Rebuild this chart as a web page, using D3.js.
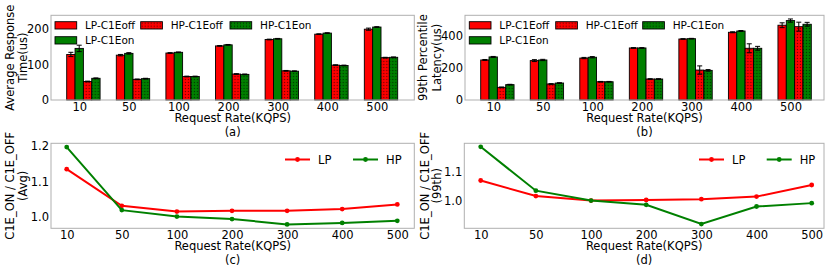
<!DOCTYPE html>
<html>
<head>
<meta charset="utf-8">
<script src="https://cdn.jsdelivr.net/npm/d3@7"></script>
<style>
  body { margin: 0; background: #fff; }
  svg { display: block; font-family: "DejaVu Sans", sans-serif; }
</style>
</head>
<body>
<svg id="chart" width="830" height="277"></svg>
<script>
// categories
const rates = ['10', '50', '100', '200', '300', '400', '500'];
const barSeries = ['LP-C1Eoff', 'LP-C1Eon', 'HP-C1Eoff', 'HP-C1Eon'];
const lineSeries = ['LP', 'HP'];

// (a) average response time (us)
const avgLpOff = [128, 126, 132, 152, 170, 185, 199];
const avgLpOn  = [145, 131, 134, 155, 172, 188, 205];
const avgHpOff = [52, 58, 66, 73, 82, 98, 119];
const avgHpOn  = [61, 60, 66, 72, 81, 97, 120];
const avgLpOffErr = [6, 2, 1, 1, 1, 1, 3];
const avgLpOnErr  = [9, 2, 1, 1, 1, 1, 1];
const avgHpOffErr = [1, 1, 1, 1, 1, 1, 1];
const avgHpOnErr  = [1, 1, 1, 1, 1, 1, 1];

// (b) 99th percentile latency (us)
const p99LpOff = [250, 246, 262, 325, 381, 423, 467];
const p99LpOn  = [269, 250, 267, 325, 383, 431, 496];
const p99HpOff = [79, 100, 114, 131, 187, 323, 458];
const p99HpOn  = [96, 106, 114, 131, 185, 323, 473];
const p99LpOffErr = [3, 6, 4, 2, 2, 3, 15];
const p99LpOnErr  = [3, 4, 4, 2, 2, 3, 10];
const p99HpOffErr = [2, 2, 2, 2, 26, 28, 28];
const p99HpOnErr  = [2, 2, 2, 2, 5, 12, 12];

// (c) / (d) ratio C1E_ON / C1E_OFF
const avgRatioLp = [1.135, 1.032, 1.016, 1.018, 1.018, 1.023, 1.036];
const avgRatioHp = [1.197, 1.020, 1.002, 0.995, 0.980, 0.984, 0.990];
const p99RatioLp = [1.071, 1.016, 1.000, 1.002, 1.005, 1.014, 1.055];
const p99RatioHp = [1.190, 1.035, 1.000, 0.985, 0.917, 0.979, 0.991];

// tick labels
const avgTicks = [0, 100, 200];
const p99Ticks = [0, 200, 400];
const avgRatioTicks = [1.0, 1.1, 1.2];
const p99RatioTicks = [1.0, 1.1];

const RED = '#ff0000', GREEN = '#008000';
const svg = d3.select('#chart');

// dotted hatch patterns for the HP bars
const defs = svg.append('defs');
function dotPattern(id, color) {
  const p = defs.append('pattern')
    .attr('id', id)
    .attr('width', 3).attr('height', 3)
    .attr('patternUnits', 'userSpaceOnUse');
  p.append('rect').attr('width', 3).attr('height', 3).attr('fill', color);
  p.append('circle').attr('cx', 1.5).attr('cy', 1.5).attr('r', 0.65)
    .attr('fill', '#000').attr('opacity', 0.55);
}
dotPattern('dotRed', RED);
dotPattern('dotGreen', GREEN);

const barFill = {
  'LP-C1Eoff': RED,
  'LP-C1Eon': GREEN,
  'HP-C1Eoff': 'url(#dotRed)',
  'HP-C1Eon': 'url(#dotGreen)'
};
const lineColor = {LP: RED, HP: GREEN};

function frame(g, box) {
  g.append('rect')
    .attr('x', box.x0).attr('y', box.y0)
    .attr('width', box.x1 - box.x0).attr('height', box.y1 - box.y0)
    .attr('fill', 'none').attr('stroke', '#b0b0b0').attr('stroke-width', 1);
}

function styleAxis(ax) {
  ax.select('.domain').remove();
  ax.selectAll('text').attr('font-size', 11.5).attr('fill', '#000')
    .attr('font-family', '"DejaVu Sans", sans-serif');
}

function labels(g, box, ylab, yx, caption) {
  const cx = (box.x0 + box.x1) / 2;
  g.append('text').attr('x', cx).attr('y', box.y1 + 22)
    .attr('text-anchor', 'middle').attr('font-size', 11.5)
    .text('Request Rate(KQPS)');
  g.append('text').attr('x', cx).attr('y', box.y1 + 36)
    .attr('text-anchor', 'middle').attr('font-size', 11.5)
    .text(caption);
  const cy = (box.y0 + box.y1) / 2;
  ylab.forEach((t, i) => {
    g.append('text')
      .attr('transform', `translate(${yx[i]},${cy}) rotate(-90)`)
      .attr('text-anchor', 'middle').attr('dy', '0.35em')
      .attr('font-size', 11.5)
      .text(t);
  });
}

// grouped bar panel with error bars
function drawBars(box, values, errors, yMax, ticks, ylab, yx, caption, legendCols) {
  const g = svg.append('g');

  const x = d3.scaleBand().domain(rates)
    .range([box.x0 + box.padL, box.x1 - box.padR])
    .paddingInner(0.327).paddingOuter(0);
  const xs = d3.scaleBand().domain(barSeries).range([0, x.bandwidth()]);
  const y = d3.scaleLinear().domain([0, yMax]).range([box.y1, box.y0]);

  const rows = rates.map((r, i) => ({
    rate: r,
    bars: barSeries.map((s, k) => ({key: s, v: values[k][i], e: errors[k][i]}))
  }));

  const grp = g.selectAll('g.grp').data(rows).join('g')
    .attr('class', 'grp')
    .attr('transform', d => `translate(${x(d.rate)},0)`);

  grp.selectAll('rect').data(d => d.bars).join('rect')
    .attr('x', d => xs(d.key))
    .attr('y', d => y(d.v))
    .attr('width', xs.bandwidth())
    .attr('height', d => box.y1 - y(d.v))
    .attr('fill', d => barFill[d.key])
    .attr('stroke', '#000').attr('stroke-width', 0.9);

  // error bars
  const eb = grp.selectAll('g.err').data(d => d.bars).join('g').attr('class', 'err')
    .attr('stroke', '#000').attr('stroke-width', 1);
  eb.append('line')
    .attr('x1', d => xs(d.key) + xs.bandwidth() / 2)
    .attr('x2', d => xs(d.key) + xs.bandwidth() / 2)
    .attr('y1', d => y(d.v - d.e)).attr('y2', d => y(d.v + d.e));
  [1, -1].forEach(sgn => {
    eb.append('line')
      .attr('x1', d => xs(d.key) + xs.bandwidth() / 2 - 2.5)
      .attr('x2', d => xs(d.key) + xs.bandwidth() / 2 + 2.5)
      .attr('y1', d => y(d.v + sgn * d.e)).attr('y2', d => y(d.v + sgn * d.e));
  });

  // x ticks sit on the centre of the 2nd bar in each group
  const off = xs(barSeries[1]) + xs.bandwidth() / 2;
  const tickScale = d3.scalePoint().domain(rates)
    .range([x(rates[0]) + off, x(rates[rates.length - 1]) + off]);
  const ax = g.append('g').attr('transform', `translate(0,${box.y1})`)
    .call(d3.axisBottom(tickScale).tickSize(0).tickPadding(3));
  styleAxis(ax);

  const ay = g.append('g').attr('transform', `translate(${box.x0},0)`)
    .call(d3.axisLeft(y).tickValues(ticks).tickSize(0).tickPadding(2));
  styleAxis(ay);

  frame(g, box);
  labels(g, box, ylab, yx, caption);

  // legend: 3 columns, first column holds two entries
  const slots = [[0, 0], [0, 1], [1, 0], [2, 0]];
  const lg = g.selectAll('g.leg').data(barSeries).join('g').attr('class', 'leg')
    .attr('transform', (d, i) =>
      `translate(${box.x0 + legendCols[slots[i][0]]},${box.y0 + 6.4 + slots[i][1] * 15})`);
  lg.append('rect').attr('width', 21.7).attr('height', 7.3)
    .attr('fill', d => barFill[d]).attr('stroke', '#000').attr('stroke-width', 0.9);
  lg.append('text').attr('x', 30).attr('y', 7.6)
    .attr('font-size', 10.5).text(d => d);
}

// ratio line panel
function drawLines(box, lp, hp, yDom, ticks, ylab, yx, caption, legendX) {
  const g = svg.append('g');
  const x = d3.scalePoint().domain(rates)
    .range([box.x0 + box.padL, box.x1 - box.padR]);
  const y = d3.scaleLinear().domain(yDom).range([box.y1, box.y0]);

  const series = [
    {key: 'LP', vals: lp},
    {key: 'HP', vals: hp}
  ];
  const line = d3.line().x((d, i) => x(rates[i])).y(d => y(d));

  const sg = g.selectAll('g.series').data(series).join('g').attr('class', 'series');
  sg.append('path')
    .attr('d', d => line(d.vals))
    .attr('fill', 'none')
    .attr('stroke', d => lineColor[d.key])
    .attr('stroke-width', 2);
  sg.selectAll('circle').data(d => d.vals.map(v => ({v, key: d.key}))).join('circle')
    .attr('cx', (d, i) => x(rates[i]))
    .attr('cy', d => y(d.v))
    .attr('r', 2.4)
    .attr('fill', d => lineColor[d.key]);

  const ax = g.append('g').attr('transform', `translate(0,${box.y1})`)
    .call(d3.axisBottom(x).tickSize(0).tickPadding(3));
  styleAxis(ax);
  const ay = g.append('g').attr('transform', `translate(${box.x0},0)`)
    .call(d3.axisLeft(y).tickValues(ticks).tickFormat(d3.format('.1f')).tickSize(0).tickPadding(2));
  styleAxis(ay);

  frame(g, box);
  labels(g, box, ylab, yx, caption);

  const ly = box.y0 + 16.2;
  const lg = g.selectAll('g.leg').data(lineSeries).join('g').attr('class', 'leg')
    .attr('transform', (d, i) => `translate(${legendX[i]},${ly})`);
  lg.append('line').attr('x1', 0).attr('x2', 25).attr('y1', 0).attr('y2', 0)
    .attr('stroke', d => lineColor[d]).attr('stroke-width', 2);
  lg.append('circle').attr('cx', 12.5).attr('cy', 0).attr('r', 2.4)
    .attr('fill', d => lineColor[d]);
  lg.append('text').attr('x', 33).attr('y', 4.2)
    .attr('font-size', 11.5).text(d => d);
}

drawBars(
  {x0: 51, x1: 414.3, y0: 15.3, y1: 100, padL: 15.7, padR: 16.6},
  [avgLpOff, avgLpOn, avgHpOff, avgHpOn],
  [avgLpOffErr, avgLpOnErr, avgHpOffErr, avgHpOnErr],
  238, avgTicks, ['Average Response', 'Time(us)'], [10, 22.7], '(a)', [4, 89.7, 179]
);
drawBars(
  {x0: 465, x1: 824, y0: 15.3, y1: 100, padL: 15.7, padR: 12.7},
  [p99LpOff, p99LpOn, p99HpOff, p99HpOn],
  [p99LpOffErr, p99LpOnErr, p99HpOffErr, p99HpOnErr],
  529, p99Ticks, ['99th Percentile', 'Latency(us)'], [423, 436.7], '(b)', [4.3, 90.7, 177.7]
);
drawLines(
  {x0: 51, x1: 414.3, y0: 143.3, y1: 228.3, padL: 15.7, padR: 17},
  avgRatioLp, avgRatioHp, [0.969, 1.2075], avgRatioTicks,
  ['C1E_ON / C1E_OFF', '(Avg)'], [10, 23], '(c)', [285, 353]
);
drawLines(
  {x0: 464.3, x1: 824, y0: 143.3, y1: 228.3, padL: 16.4, padR: 12.3},
  p99RatioLp, p99RatioHp, [0.902, 1.2025], p99RatioTicks,
  ['C1E_ON / C1E_OFF', '(99th)'], [425, 436.7], '(d)', [699, 766.7]
);
</script>
</body>
</html>
